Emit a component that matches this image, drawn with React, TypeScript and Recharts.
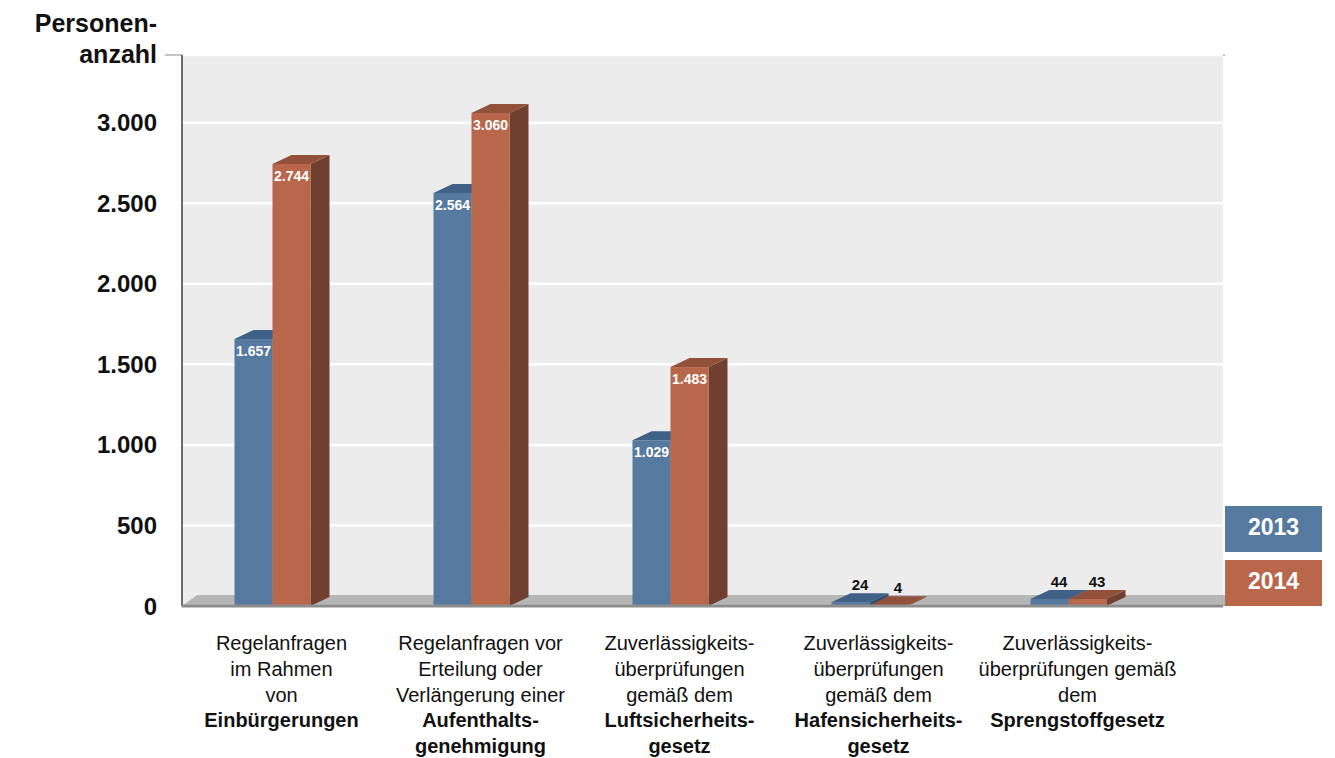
import React from 'react';
import { BarChart, Bar, XAxis, YAxis, CartesianGrid, Legend, LabelList } from 'recharts';

const categoryRegular = [
  ['Regelanfragen', 'im Rahmen', 'von'],
  ['Regelanfragen vor', 'Erteilung oder', 'Verlängerung einer'],
  ['Zuverlässigkeits-', 'überprüfungen', 'gemäß dem'],
  ['Zuverlässigkeits-', 'überprüfungen', 'gemäß dem'],
  ['Zuverlässigkeits-', 'überprüfungen gemäß', 'dem'],
];
const categoryBold = [
  ['Einbürgerungen'],
  ['Aufenthalts-', 'genehmigung'],
  ['Luftsicherheits-', 'gesetz'],
  ['Hafensicherheits-', 'gesetz'],
  ['Sprengstoffgesetz'],
];
const values2013 = [1657, 2564, 1029, 24, 44];
const values2014 = [2744, 3060, 1483, 4, 43];
const yTicks = [0, 500, 1000, 1500, 2000, 2500, 3000];

const data = categoryRegular.map((lines, i) => ({
  category: [...lines, ...categoryBold[i]].join(' '),
  y2013: values2013[i],
  y2014: values2014[i],
}));

const FONT = '"Liberation Sans", Arial, Helvetica, sans-serif';
const DX = 19;
const DY = 9;
const SHIFT = -DX / 2;

const BLUE = { front: '#5679a0', top: '#3f6187', side: '#354f6e' };
const ORANGE = { front: '#b8674b', top: '#93503b', side: '#703f31' };

const fmt = (v: number) => String(v).replace(/\B(?=(\d{3})+(?!\d))/g, '.');

const bar3D = (c: { front: string; top: string; side: string }) => (props: any) => {
  const { x, y, width, height } = props;
  const h = Math.max(height || 0, 0);
  const fx = x + SHIFT;
  const r = fx + width;
  return (
    <g>
      <polygon
        points={`${r},${y} ${r + DX},${y - DY} ${r + DX},${y + h - DY} ${r},${y + h}`}
        fill={c.side}
      />
      <polygon
        points={`${fx},${y} ${fx + DX},${y - DY} ${r + DX},${y - DY} ${r},${y}`}
        fill={c.top}
      />
      <rect x={fx} y={y} width={width} height={h} fill={c.front} />
    </g>
  );
};

const renderValueLabel = (props: any) => {
  const { x, y, width, value } = props;
  const cx = x + SHIFT + width / 2;
  if (value >= 1000) {
    return (
      <text x={cx} y={y + 17} textAnchor="middle" fill="#ffffff" fontSize={14} fontWeight="bold" fontFamily={FONT}>
        {fmt(value)}
      </text>
    );
  }
  return (
    <text x={cx + DX / 2} y={y - DY - 3} textAnchor="middle" fill="#111111" fontSize={15} fontWeight="bold" fontFamily={FONT}>
      {fmt(value)}
    </text>
  );
};

const CategoryTick = (props: any) => {
  const { x, y, payload } = props;
  const i = data.findIndex((d) => d.category === payload.value);
  if (i < 0) return null;
  const lines = [
    ...categoryRegular[i].map((t) => ({ t, b: false })),
    ...categoryBold[i].map((t) => ({ t, b: true })),
  ];
  return (
    <g>
      {lines.map((l, k) => (
        <text
          key={k}
          x={x}
          y={y + 44 + k * 25.8}
          textAnchor="middle"
          fontSize={20}
          fontWeight={l.b ? 'bold' : 'normal'}
          fill="#111111"
          fontFamily={FONT}
        >
          {l.t}
        </text>
      ))}
    </g>
  );
};

const YTitle = (props: any) => {
  const vb = props.viewBox || { x: 82, y: 55, width: 100 };
  const tx = vb.x + vb.width - 25;
  return (
    <g>
      <text x={tx} y={vb.y - 23} textAnchor="end" fontSize={25} fontWeight="bold" fill="#111111" fontFamily={FONT}>
        Personen-
      </text>
      <text x={tx} y={vb.y + 8} textAnchor="end" fontSize={25} fontWeight="bold" fill="#111111" fontFamily={FONT}>
        anzahl
      </text>
    </g>
  );
};

const LegendBoxes = (props: any) => (
  <div>
    {(props.payload || []).map((p: any, i: number) => (
      <div
        key={i}
        style={{
          width: 97,
          height: 46,
          marginBottom: 8,
          background: p.color,
          color: '#ffffff',
          fontFamily: FONT,
          fontWeight: 'bold',
          fontSize: 23,
          display: 'flex',
          alignItems: 'center',
          justifyContent: 'center',
          paddingBottom: 4,
          boxSizing: 'border-box',
        }}
      >
        {p.value}
      </div>
    ))}
  </div>
);

export default function App() {
  return (
    <div style={{ position: 'absolute', left: 0, top: 0, width: 1335, height: 758, background: '#ffffff' }}>
      {/* plot background, top border and floor sit behind the transparent svg */}
      <div style={{ position: 'absolute', left: 182, top: 55, width: 1041, height: 551, background: '#ebeceb' }} />
      <div style={{ position: 'absolute', left: 165, top: 54, width: 1060, height: 2, background: '#c4c4c4' }} />
      <div
        style={{
          position: 'absolute',
          left: 182,
          top: 595,
          width: 1043,
          height: 11,
          background: '#b6b6b6',
          clipPath: 'polygon(15px 0, 100% 0, 100% 100%, 0 100%)',
        }}
      />
      <div style={{ position: 'absolute', left: 0, top: 0 }}>
        <BarChart
          width={1335}
          height={758}
          data={data}
          margin={{ top: 55, right: 112, bottom: 12, left: 82 }}
          barGap={0}
          barSize={38}
        >
          <CartesianGrid vertical={false} stroke="#ffffff" strokeWidth={2.5} />
          <YAxis
            width={100}
            domain={[0, 3420]}
            ticks={yTicks}
            allowDataOverflow
            tickFormatter={fmt}
            tickLine={false}
            tickSize={0}
            tickMargin={25}
            axisLine={{ stroke: '#6b6b6b', strokeWidth: 2 }}
            tick={{ fill: '#111111', fontSize: 24, fontWeight: 'bold', fontFamily: FONT }}
            label={{ content: YTitle }}
          />
          <Bar dataKey="y2013" name="2013" fill={BLUE.front} shape={bar3D(BLUE)} isAnimationActive={false}>
            <LabelList dataKey="y2013" content={renderValueLabel} />
          </Bar>
          <Bar dataKey="y2014" name="2014" fill={ORANGE.front} shape={bar3D(ORANGE)} isAnimationActive={false}>
            <LabelList dataKey="y2014" content={renderValueLabel} />
          </Bar>
          <XAxis
            dataKey="category"
            height={140}
            padding={{ left: 0, right: 46 }}
            interval={0}
            tickLine={false}
            tickSize={0}
            tickMargin={0}
            axisLine={{ stroke: '#8c8c8c', strokeWidth: 3 }}
            tick={<CategoryTick />}
          />
          <Legend
            layout="vertical"
            align="center"
            verticalAlign="middle"
            content={<LegendBoxes />}
            wrapperStyle={{ position: 'absolute', left: 1225, top: 506, width: 97 }}
          />
        </BarChart>
      </div>
    </div>
  );
}
